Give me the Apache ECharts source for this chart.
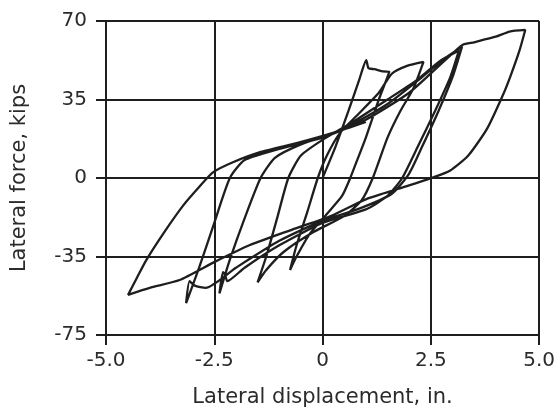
<!DOCTYPE html>
<html>
<head>
<meta charset="utf-8">
<script src="https://cdn.jsdelivr.net/npm/echarts@6/dist/echarts.min.js"></script>
<style>
  html, body { margin: 0; padding: 0; background: #fff; }
  #chart { width: 558px; height: 413px; }
</style>
</head>
<body>
<div id="chart"></div>
<script>
// Cyclic lateral load test: lateral displacement (in.) vs lateral force (kips)
const dispIn = [
  // cycle 1
  0, 0.3, 0.6, 0.85, 1.01, 1.06, 1.2, 1.4, 1.54,
  1.3, 1.0, 0.8, 0.64, 0.45, 0.1,
  -0.3, -0.6, -0.75,
  -0.6, -0.35, -0.11, 0.1, 0.4,
  // cycle 2
  0.8, 1.3, 1.6, 1.95, 2.33,
  2.1, 1.8, 1.5, 1.16, 0.9, 0.5,
  -0.2, -0.9, -1.3, -1.5,
  -1.3, -1.05, -0.79, -0.5, 0,
  // cycle 3
  0.7, 1.5, 2.2, 2.7, 3.15,
  2.95, 2.6, 2.2, 1.84, 1.5, 1.0,
  0, -1.0, -1.8, -2.2, -2.25, -2.3, -2.38,
  -2.15, -1.8, -1.43, -1.1, -0.5,
  // cycle 4
  0.5, 1.5, 2.3, 2.8, 3.22,
  3.02, 2.68, 2.3, 2.0, 1.6, 0.8,
  0, -1.0, -2.0, -2.7, -2.95, -3.07, -3.15,
  -2.85, -2.5, -2.14, -1.8, -1.0,
  // cycle 5
  0, 1.0, 2.0, 2.8, 3.24, 3.5, 3.71, 4.0, 4.32, 4.68,
  4.55, 4.35, 4.17, 3.8, 3.36, 2.94, 2.56,
  1.87, 1.0, 0.22, -0.7, -1.69, -2.5, -3.3, -3.99, -4.49,
  -4.3, -4.07, -3.65, -3.22, -2.85, -2.53, -2.07, -1.46, -0.6, 0.26, 1.0
];
const forceKips = [
  // cycle 1
  0, 14, 30, 44, 52.5, 49, 48.5, 47.5, 47.4,
  35, 18, 8, 0, -8, -16,
  -25, -35, -41,
  -30, -15, 0, 10, 20,
  // cycle 2
  28, 38, 46.5, 50, 51.8,
  40, 30, 18, 0, -10, -17,
  -24, -33, -41, -46.5,
  -35, -18, 0, 10, 17,
  // cycle 3
  25, 35, 44, 52, 56.9,
  45, 30, 14, 0, -8, -14,
  -20, -30, -40, -46, -43, -42, -51.5,
  -37, -18, 0, 9, 15,
  // cycle 4
  22, 33, 45, 53, 58.5,
  46, 30, 14, 2, -7, -14,
  -19, -28, -40, -49, -48, -46, -55.8,
  -40, -20, 0, 8, 13,
  // cycle 5
  18, 26, 38, 52, 59.4, 60.5, 61.6, 63, 65.3, 66,
  57, 46, 37.2, 22, 9.9, 3.2, 0.3,
  -4.1, -9.5, -16.7, -23, -30, -37.5, -45.5, -49, -52.1,
  -45, -36.6, -24, -12.3, -4, 2.5, 7, 11.4, 15.5, 20.2, 25
];

// Axis ticks and their printed labels
const xTickValues = [-5, -2.5, 0, 2.5, 5];
const xTickLabels = ['-5.0', '-2.5', '0', '2.5', '5.0'];
const yTickValues = [-70, -35, 0, 35, 70];
const yTickLabels = ['-75', '-35', '0', '35', '70'];

const ink = '#1e1e1e';
const textColor = '#2b2b2b';
const fontFamily = 'DejaVu Sans';

const chart = echarts.init(document.getElementById('chart'), null, { renderer: 'canvas' });

chart.setOption({
  animation: false,
  backgroundColor: '#ffffff',
  grid: { left: 106, right: 17, top: 21, bottom: 76, containLabel: false },
  xAxis: {
    type: 'value',
    min: -5, max: 5, interval: 2.5,
    name: 'Lateral displacement, in.',
    nameLocation: 'middle',
    nameGap: 52,
    nameTextStyle: { fontFamily, fontSize: 21, color: textColor },
    axisLine: { show: false, onZero: false },
    axisTick: { show: true, inside: false, length: 10, lineStyle: { color: ink, width: 2 } },
    axisLabel: {
      fontFamily, fontSize: 20, color: textColor, margin: 16,
      formatter: v => {
        const i = xTickValues.findIndex(t => Math.abs(t - v) < 1e-9);
        return i >= 0 ? xTickLabels[i] : '';
      }
    },
    splitLine: { show: true, lineStyle: { color: ink, width: 2 } }
  },
  yAxis: {
    type: 'value',
    min: -70, max: 70, interval: 35,
    name: 'Lateral force, kips',
    nameLocation: 'middle',
    nameGap: 76,
    nameTextStyle: { fontFamily, fontSize: 21, color: textColor },
    axisLine: { show: false, onZero: false },
    axisTick: { show: true, inside: false, length: 10, lineStyle: { color: ink, width: 2 } },
    axisLabel: {
      fontFamily, fontSize: 20, color: textColor, margin: 19,
      formatter: v => {
        const i = yTickValues.findIndex(t => Math.abs(t - v) < 1e-9);
        return i >= 0 ? yTickLabels[i] : '';
      }
    },
    splitLine: { show: true, lineStyle: { color: ink, width: 2 } }
  },
  series: [{
    type: 'line',
    data: dispIn.map((x, i) => [x, forceKips[i]]),
    showSymbol: false,
    smooth: 0.2,
    lineStyle: { color: ink, width: 2.3 },
    clip: false
  }]
});
</script>
</body>
</html>
